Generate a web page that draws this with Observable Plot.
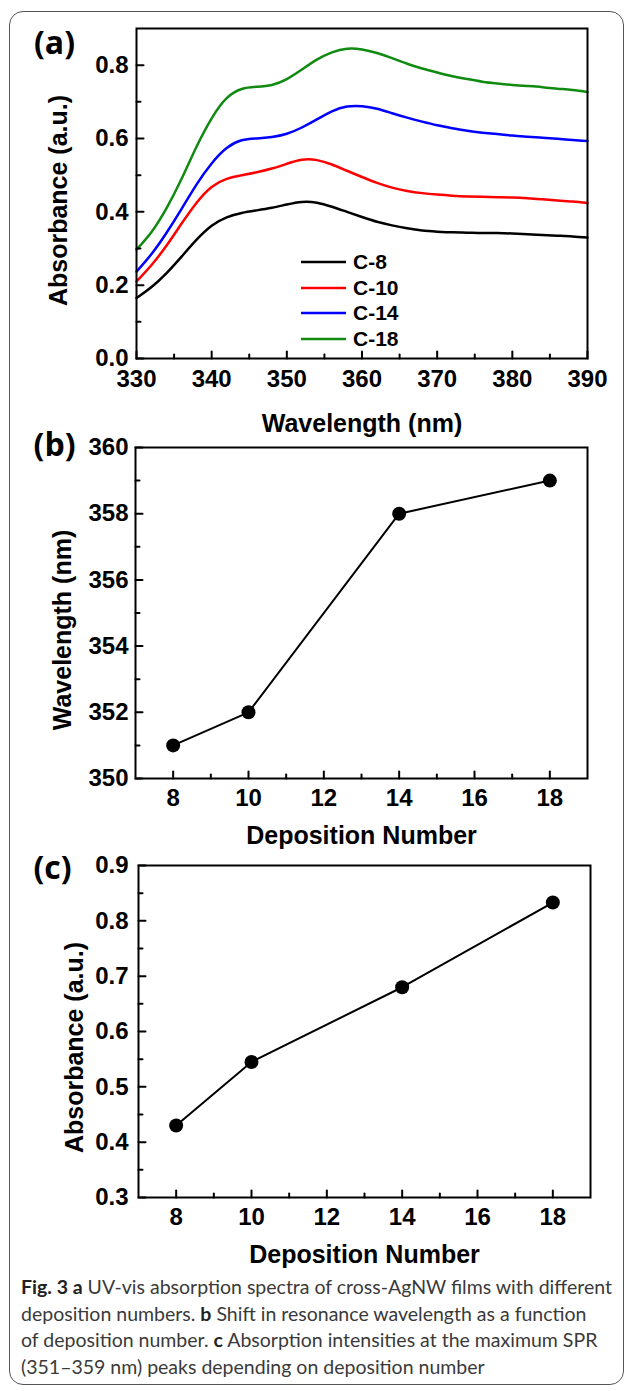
<!DOCTYPE html>
<html>
<head>
<meta charset="utf-8">
<script src="https://cdn.jsdelivr.net/npm/d3@7"></script>
<script src="https://cdn.jsdelivr.net/npm/@observablehq/plot@0.6"></script>
<style>
  html, body { margin: 0; padding: 0; background: #fff; }
  #root { position: relative; width: 630px; height: 1391px; overflow: hidden; background: #fff; }
  .panel { position: absolute; left: 0; width: 630px; }
  .panel svg { overflow: visible; background: transparent; }
  #border { position: absolute; left: 9px; top: 11px; width: 615px; height: 1374px; border: 1.6px solid #555; border-radius: 14px; box-sizing: border-box; }
  #legend { position: absolute; left: 301px; top: 249px; font-family: "Liberation Sans", Arial, sans-serif; font-weight: bold; font-size: 21px; color: #000; }
  #legend .row { height: 25.7px; display: flex; align-items: center; }
  #legend svg { margin-right: 7px; }
  #caption { position: absolute; left: 21px; top: 1274px; font-family: Lato, "Open Sans", sans-serif; font-size: 19.5px; line-height: 26.5px; color: #3a3a3a; white-space: nowrap; }
  #caption b { color: #222; }
</style>
</head>
<body>
<div id="root">
  <div id="border"></div>
</div>
<script>
// ---------- data ----------
const wavelengths = [330,332,334,336,338,340,342,344,346,348,350,352,354,356,358,360,362,364,366,368,370,372,374,376,378,380,382,384,386,388,390];
const absC8  = [0.165,0.195,0.233,0.278,0.324,0.362,0.385,0.397,0.404,0.411,0.420,0.427,0.425,0.414,0.400,0.386,0.373,0.363,0.355,0.349,0.346,0.344,0.343,0.342,0.342,0.341,0.339,0.337,0.335,0.333,0.330];
const absC10 = [0.210,0.255,0.308,0.368,0.425,0.468,0.490,0.500,0.508,0.518,0.531,0.542,0.541,0.529,0.512,0.495,0.479,0.466,0.457,0.451,0.447,0.444,0.442,0.441,0.440,0.439,0.437,0.434,0.431,0.428,0.424];
const absC14 = [0.237,0.285,0.343,0.408,0.475,0.532,0.574,0.595,0.600,0.604,0.613,0.630,0.652,0.674,0.687,0.688,0.681,0.669,0.657,0.646,0.636,0.628,0.621,0.616,0.612,0.608,0.605,0.602,0.599,0.596,0.593];
const absC18 = [0.297,0.345,0.410,0.490,0.578,0.655,0.710,0.735,0.741,0.746,0.762,0.788,0.815,0.835,0.845,0.843,0.833,0.819,0.804,0.791,0.780,0.770,0.762,0.755,0.750,0.746,0.743,0.740,0.736,0.732,0.727];
const seriesNames  = ["C-8", "C-10", "C-14", "C-18"];
const seriesValues = [absC8, absC10, absC14, absC18];
const seriesColors = ["#000000", "#ff0000", "#0000ff", "#108a10"];

const depositionNumbers = [8, 10, 14, 18];
const peakWavelengths   = [351, 352, 358, 359];
const peakAbsorbances   = [0.43, 0.545, 0.68, 0.833];

const ticksAx = [330, 340, 350, 360, 370, 380, 390];
const minorAx = [335, 345, 355, 365, 375, 385];
const ticksAy = [0.0, 0.2, 0.4, 0.6, 0.8];
const minorAy = [0.1, 0.3, 0.5, 0.7];
const ticksDep = [8, 10, 12, 14, 16, 18];
const minorDep = [9, 11, 13, 15, 17];
const ticksBy = [350, 352, 354, 356, 358, 360];
const minorBy = [351, 353, 355, 357, 359];
const ticksCy = [0.3, 0.4, 0.5, 0.6, 0.7, 0.8, 0.9];
const minorCy = [0.35, 0.45, 0.55, 0.65, 0.75, 0.85];

// ---------- helpers ----------
const FONT = "'Liberation Sans', Arial, sans-serif";
const stick = {draw(ctx, l) { ctx.moveTo(0, 0); ctx.lineTo(0, -l); }};

function axisMarks({xMajor, xMinor, yMajor, yMinor, xFmt, yFmt, xPad, yPad}) {
  return [
    Plot.vector(xMajor, {x: d => d, frameAnchor: "bottom", length: 7, rotate: 0, anchor: "start", shape: stick, stroke: "#000", strokeWidth: 2}),
    Plot.vector(xMinor, {x: d => d, frameAnchor: "bottom", length: 4, rotate: 0, anchor: "start", shape: stick, stroke: "#000", strokeWidth: 2}),
    Plot.vector(yMajor, {y: d => d, frameAnchor: "left", length: 7, rotate: 90, anchor: "start", shape: stick, stroke: "#000", strokeWidth: 2}),
    Plot.vector(yMinor, {y: d => d, frameAnchor: "left", length: 4, rotate: 90, anchor: "start", shape: stick, stroke: "#000", strokeWidth: 2}),
    Plot.axisX(xMajor, {tickSize: 0, tickPadding: xPad, tickFormat: xFmt, fontSize: 24, fontWeight: "bold", fill: "#000", label: null}),
    Plot.axisY(yMajor, {tickSize: 0, tickPadding: yPad, tickFormat: yFmt, fontSize: 24, fontWeight: "bold", fill: "#000", label: null}),
    Plot.frame({stroke: "#000", strokeWidth: 2})
  ];
}

function titleMarks({xTitle, xDy, yTitle, yDx, yDy, tag, tagDx, tagDy}) {
  return [
    Plot.text([xTitle], {text: d => d, frameAnchor: "bottom", textAnchor: "middle", lineAnchor: "middle", dy: xDy, fontSize: 25, fontWeight: "bold", fill: "#000"}),
    Plot.text([yTitle], {text: d => d, frameAnchor: "left", textAnchor: "middle", lineAnchor: "middle", rotate: -90, dx: yDx, dy: yDy, fontSize: 25, fontWeight: "bold", fill: "#000"}),
    Plot.text([tag], {text: d => d, frameAnchor: "top-left", textAnchor: "middle", lineAnchor: "middle", dx: tagDx, dy: tagDy, fontSize: 32, fontWeight: "bold", fill: "#000", fontFamily: "'Open Sans', sans-serif"})
  ];
}

function mount(chart, top) {
  const wrap = document.createElement("div");
  wrap.className = "panel";
  wrap.style.top = top + "px";
  wrap.appendChild(chart);
  document.getElementById("root").appendChild(wrap);
}

// ---------- panel (a) ----------
const spectra = seriesNames.flatMap((name, i) =>
  wavelengths.map((w, j) => ({series: name, wavelength: w, absorbance: seriesValues[i][j]})));

const chartA = Plot.plot({
  width: 630, height: 440,
  marginTop: 28, marginBottom: 82, marginLeft: 136, marginRight: 43,
  style: {background: "transparent", fontFamily: FONT, overflow: "visible"},
  x: {domain: [330, 390]},
  y: {domain: [0, 0.9]},
  color: {domain: seriesNames, range: seriesColors},
  marks: [
    Plot.line(spectra, {x: "wavelength", y: "absorbance", z: "series", stroke: "series", strokeWidth: 2.5, curve: "natural"}),
    ...axisMarks({xMajor: ticksAx, xMinor: minorAx, yMajor: ticksAy, yMinor: minorAy, xFmt: d => d3.format("d")(d), yFmt: d3.format(".1f"), xPad: 11, yPad: 8}),
    ...titleMarks({xTitle: "Wavelength (nm)", xDy: 65, yTitle: "Absorbance (a.u.)", yDx: -78, yDy: 7, tag: "(a)", tagDx: -82, tagDy: 15})
  ]
});
mount(chartA, 0);

// ---------- panel (b) ----------
const shift = depositionNumbers.map((n, i) => ({n, w: peakWavelengths[i]}));
const chartB = Plot.plot({
  width: 630, height: 440,
  marginTop: 27, marginBottom: 82, marginLeft: 135, marginRight: 43,
  style: {background: "transparent", fontFamily: FONT, overflow: "visible"},
  x: {domain: [7, 19]},
  y: {domain: [350, 360]},
  marks: [
    Plot.line(shift, {x: "n", y: "w", stroke: "#000", strokeWidth: 2}),
    Plot.dot(shift, {x: "n", y: "w", r: 7, fill: "#000", stroke: "none"}),
    ...axisMarks({xMajor: ticksDep, xMinor: minorDep, yMajor: ticksBy, yMinor: minorBy, xFmt: d3.format("d"), yFmt: d3.format("d"), xPad: 10, yPad: 7}),
    ...titleMarks({xTitle: "Deposition Number", xDy: 57, yTitle: "Wavelength (nm)", yDx: -73, yDy: 17, tag: "(b)", tagDx: -81, tagDy: -2})
  ]
});
mount(chartB, 420);

// ---------- panel (c) ----------
const intensity = depositionNumbers.map((n, i) => ({n, a: peakAbsorbances[i]}));
const chartC = Plot.plot({
  width: 630, height: 440,
  marginTop: 27, marginBottom: 81, marginLeft: 138, marginRight: 40,
  style: {background: "transparent", fontFamily: FONT, overflow: "visible"},
  x: {domain: [7, 19]},
  y: {domain: [0.3, 0.9]},
  marks: [
    Plot.line(intensity, {x: "n", y: "a", stroke: "#000", strokeWidth: 2}),
    Plot.dot(intensity, {x: "n", y: "a", r: 7, fill: "#000", stroke: "none"}),
    ...axisMarks({xMajor: ticksDep, xMinor: minorDep, yMajor: ticksCy, yMinor: minorCy, xFmt: d3.format("d"), yFmt: d3.format(".1f"), xPad: 10, yPad: 10}),
    ...titleMarks({xTitle: "Deposition Number", xDy: 57, yTitle: "Absorbance (a.u.)", yDx: -64, yDy: 16, tag: "(c)", tagDx: -86, tagDy: 3})
  ]
});
mount(chartC, 838);

// ---------- legend for (a) ----------
const legend = document.createElement("div");
legend.id = "legend";
seriesNames.forEach((name, i) => {
  const row = document.createElement("div");
  row.className = "row";
  row.innerHTML = `<svg width="45" height="6"><line x1="0" y1="3" x2="45" y2="3" stroke="${seriesColors[i]}" stroke-width="2.5"/></svg><span>${name}</span>`;
  legend.appendChild(row);
});
document.getElementById("root").appendChild(legend);

// ---------- caption ----------
const caption = document.createElement("div");
caption.id = "caption";
caption.innerHTML = [
  "<b>Fig. 3 a</b> UV-vis absorption spectra of cross-AgNW films with different",
  "deposition numbers. <b>b</b> Shift in resonance wavelength as a function",
  "of deposition number. <b>c</b> Absorption intensities at the maximum SPR",
  "(351–359 nm) peaks depending on deposition number"
].join("<br>");
document.getElementById("root").appendChild(caption);
</script>
</body>
</html>
